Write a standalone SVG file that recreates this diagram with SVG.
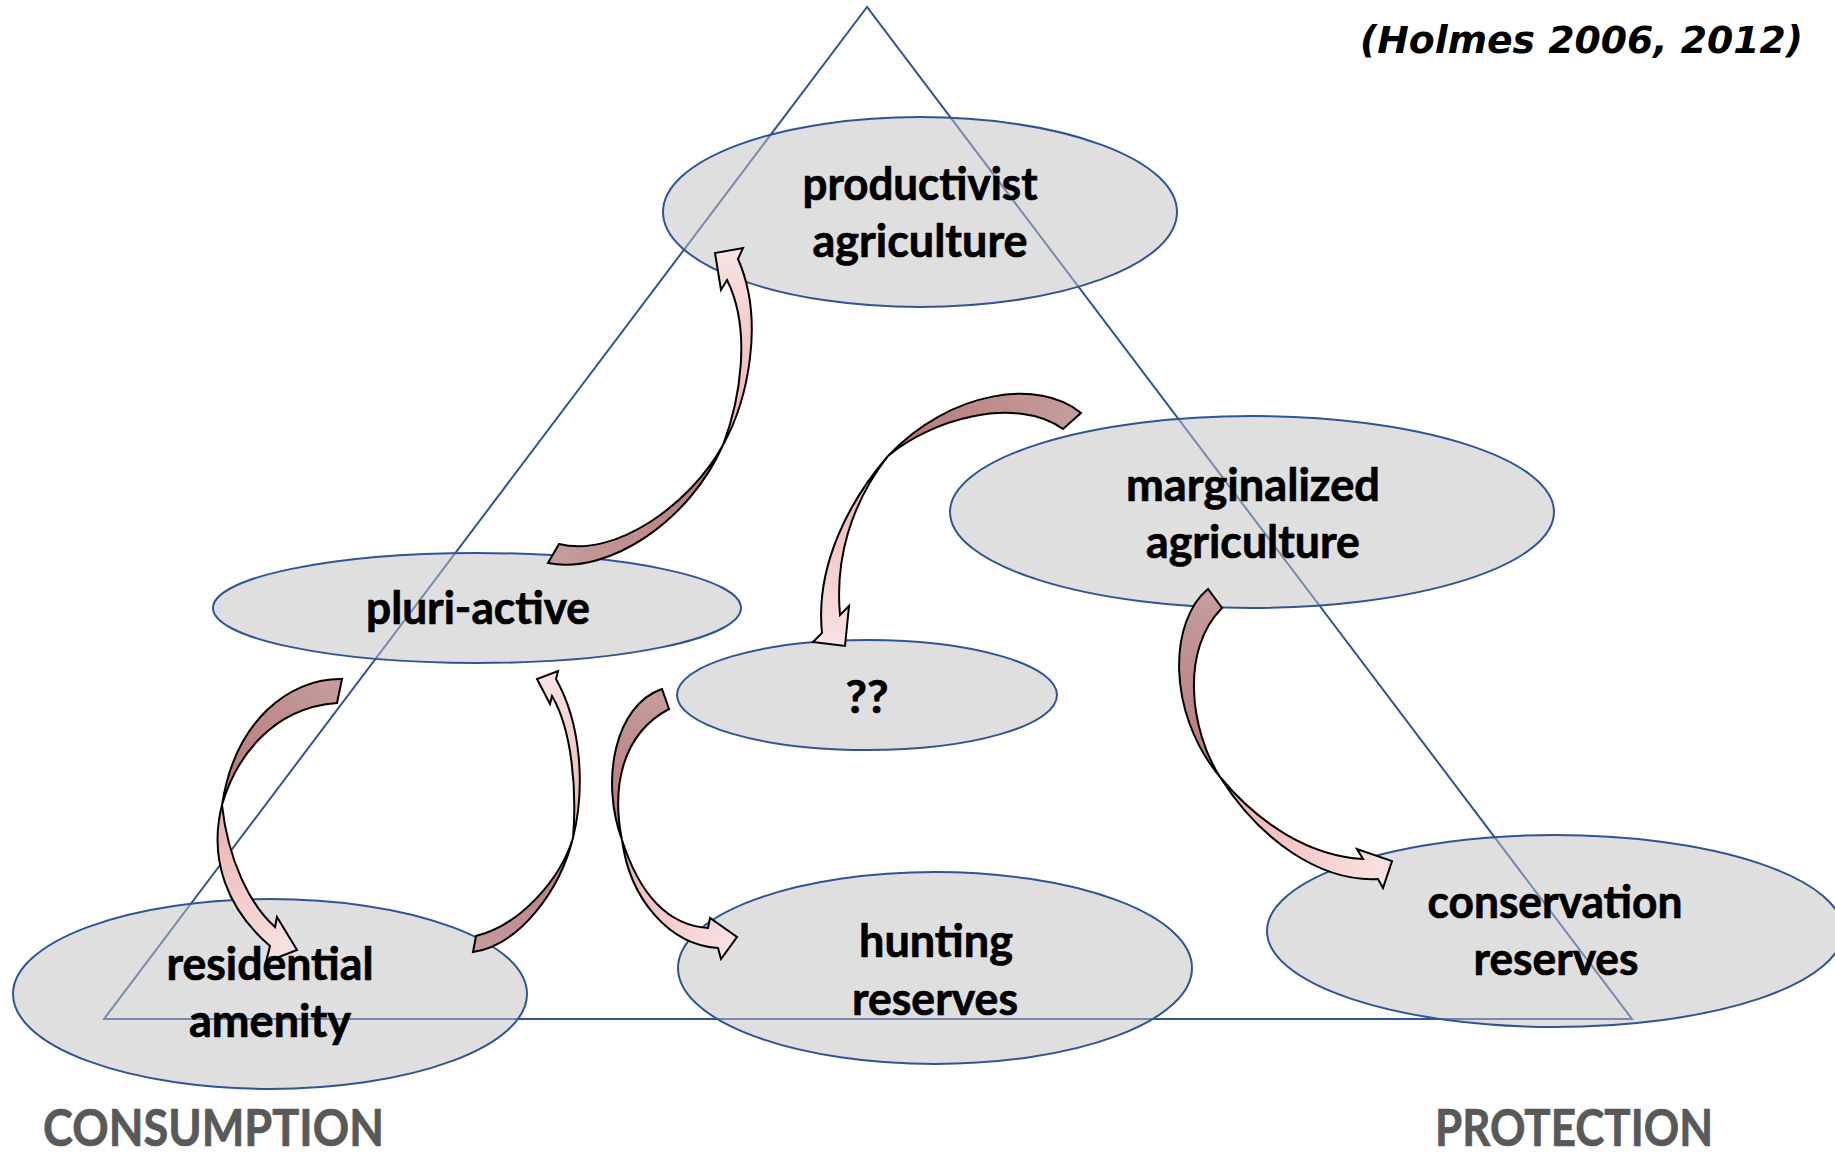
<svg xmlns="http://www.w3.org/2000/svg" xmlns:xlink="http://www.w3.org/1999/xlink" width="1835" height="1154" viewBox="0 0 1835 1154">
<style>
.node ellipse{fill:#bfbfbf;fill-opacity:0.5;stroke:#2f5597;stroke-width:2}
.lbl{font-family:Lato,"Open Sans","Liberation Sans",sans-serif;font-weight:bold;font-size:46px;fill:#000;stroke:#000;stroke-width:0.7;text-anchor:middle}
.pole{font-family:Lato,"Open Sans","Liberation Sans",sans-serif;font-weight:bold;font-size:51px;fill:#595959;stroke:#595959;stroke-width:0.7}
.cite{font-family:"DejaVu Sans","Liberation Sans",sans-serif;font-weight:bold;font-style:italic;font-size:37px;fill:#000}
.arr{stroke:#000;stroke-width:2;stroke-linejoin:miter}
</style>
<defs>
<linearGradient id="dk"><stop offset="0" stop-color="#c59c9c"/><stop offset="1" stop-color="#b77676"/></linearGradient>
<linearGradient id="lt"><stop offset="0" stop-color="#edafaf"/><stop offset="1" stop-color="#f9e2e2"/></linearGradient>
<linearGradient id="gAd" href="#dk" gradientUnits="userSpaceOnUse" x1="1072" y1="421" x2="888" y2="456"/>
<linearGradient id="gAl" href="#lt" gradientUnits="userSpaceOnUse" x1="888" y1="456" x2="845" y2="646"/>
<linearGradient id="gBd" href="#dk" gradientUnits="userSpaceOnUse" x1="553" y1="554" x2="723" y2="445"/>
<linearGradient id="gBl" href="#lt" gradientUnits="userSpaceOnUse" x1="723" y1="445" x2="715" y2="253"/>
<linearGradient id="gC1d" href="#dk" gradientUnits="userSpaceOnUse" x1="340" y1="690" x2="222" y2="805"/>
<linearGradient id="gC1l" href="#lt" gradientUnits="userSpaceOnUse" x1="222" y1="805" x2="297" y2="950"/>
<linearGradient id="gC2d" href="#dk" gradientUnits="userSpaceOnUse" x1="474" y1="944" x2="573" y2="838"/>
<linearGradient id="gC2l" href="#lt" gradientUnits="userSpaceOnUse" x1="573" y1="838" x2="537" y2="679"/>
<linearGradient id="gDd" href="#dk" gradientUnits="userSpaceOnUse" x1="665" y1="699" x2="622" y2="840"/>
<linearGradient id="gDl" href="#lt" gradientUnits="userSpaceOnUse" x1="622" y1="840" x2="737" y2="937"/>
<linearGradient id="gEd" href="#dk" gradientUnits="userSpaceOnUse" x1="1215" y1="598" x2="1220" y2="777"/>
<linearGradient id="gEl" href="#lt" gradientUnits="userSpaceOnUse" x1="1220" y1="777" x2="1392" y2="861"/>
</defs>
<rect width="1835" height="1154" fill="#fff"/>
<polygon id="triangle" points="867,7 104,1019 1632,1019" fill="none" stroke="#2f5597" stroke-width="2"/>

<g id="node-productivist" class="node">
<ellipse cx="920" cy="212" rx="257" ry="95"/>
</g>
<g id="node-marginalized" class="node">
<ellipse cx="1252" cy="512" rx="302" ry="96"/>
</g>
<g id="node-pluriactive" class="node">
<ellipse cx="477" cy="608" rx="264" ry="55"/>
</g>
<g id="node-unknown" class="node">
<ellipse cx="867" cy="695" rx="190" ry="55"/>
</g>
<g id="node-residential" class="node">
<ellipse cx="270" cy="994" rx="257" ry="95"/>
</g>
<g id="node-hunting" class="node">
<ellipse cx="935" cy="968" rx="257" ry="96"/>
</g>
<g id="node-conservation" class="node">
<ellipse cx="1555" cy="931" rx="288" ry="96"/>
</g>

<g id="connectors">
<g id="arrow-marginalized-unknown" class="arr">
<path fill="url(#gAd)" d="M1081,413 C1040,378 950,390 888,456 C930,420 1015,395 1063,429 Z"/>
<path fill="url(#gAl)" d="M888,456 C850,500 815,565 822,633 L813,642 L845,646 L849,606 L840,615 C835,560 850,505 888,456 Z"/>
</g>
<g id="arrow-pluriactive-productivist" class="arr">
<path fill="url(#gBd)" d="M548,563 C610,575 690,520 723,445 C690,505 615,558 559,544 Z"/>
<path fill="url(#gBl)" d="M723,445 C740,400 752,330 727,280 L721,290 L715,253 L743,248 L738,259 C765,320 748,400 723,445 Z"/>
</g>
<g id="arrow-pluriactive-residential" class="arr">
<path fill="url(#gC1d)" d="M342,679 C290,678 235,720 222,805 C235,760 270,708 337,703 Z"/>
<path fill="url(#gC1l)" d="M222,805 C208,860 228,910 270,946 L266,962 L297,950 L277,917 L275,927 C250,905 228,860 222,805 Z"/>
</g>
<g id="arrow-residential-pluriactive" class="arr">
<path fill="url(#gC2d)" d="M473,952 C520,945 560,890 573,838 C560,880 520,925 476,936 Z"/>
<path fill="url(#gC2l)" d="M573,838 C585,790 582,725 556,679 L558,671 L537,679 L550,704 L552,696 C572,730 577,790 573,838 Z"/>
</g>
<g id="arrow-unknown-hunting" class="arr">
<path fill="url(#gDd)" d="M662,689 C615,705 600,780 622,840 C612,790 620,735 669,709 Z"/>
<path fill="url(#gDl)" d="M622,840 C630,900 670,945 718,948 L721,959 L737,937 L710,918 L708,928 C665,925 638,890 622,840 Z"/>
</g>
<g id="arrow-marginalized-conservation" class="arr">
<path fill="url(#gEd)" d="M1208,589 C1170,620 1165,710 1220,777 C1190,730 1180,650 1222,608 Z"/>
<path fill="url(#gEl)" d="M1220,777 C1260,840 1320,882 1378,879 L1383,888 L1392,861 L1357,849 L1363,859 C1310,856 1260,825 1220,777 Z"/>
</g>
</g>

<g id="labels">
<text class="lbl" x="920" y="200" textLength="235" lengthAdjust="spacingAndGlyphs">productivist</text>
<text class="lbl" x="920" y="257" textLength="215" lengthAdjust="spacingAndGlyphs">agriculture</text>
<text class="lbl" x="1253" y="501" textLength="254" lengthAdjust="spacingAndGlyphs">marginalized</text>
<text class="lbl" x="1253" y="558" textLength="214" lengthAdjust="spacingAndGlyphs">agriculture</text>
<text class="lbl" x="478" y="624" textLength="224" lengthAdjust="spacingAndGlyphs">pluri-active</text>
<text class="lbl" x="867" y="713" textLength="43" lengthAdjust="spacingAndGlyphs">??</text>
<text class="lbl" x="270" y="980" textLength="207" lengthAdjust="spacingAndGlyphs">residential</text>
<text class="lbl" x="270" y="1037" textLength="162" lengthAdjust="spacingAndGlyphs">amenity</text>
<text class="lbl" x="936" y="957" textLength="154" lengthAdjust="spacingAndGlyphs">hunting</text>
<text class="lbl" x="935" y="1015" textLength="166" lengthAdjust="spacingAndGlyphs">reserves</text>
<text class="lbl" x="1555" y="918" textLength="255" lengthAdjust="spacingAndGlyphs">conservation</text>
<text class="lbl" x="1556" y="975" textLength="165" lengthAdjust="spacingAndGlyphs">reserves</text>
<text class="pole" x="43" y="1146" textLength="341" lengthAdjust="spacingAndGlyphs">CONSUMPTION</text>
<text class="pole" x="1435" y="1146" textLength="278" lengthAdjust="spacingAndGlyphs">PROTECTION</text>
<text class="cite" x="1360" y="53" textLength="443" lengthAdjust="spacingAndGlyphs">(Holmes 2006, 2012)</text>
</g>
</svg>
